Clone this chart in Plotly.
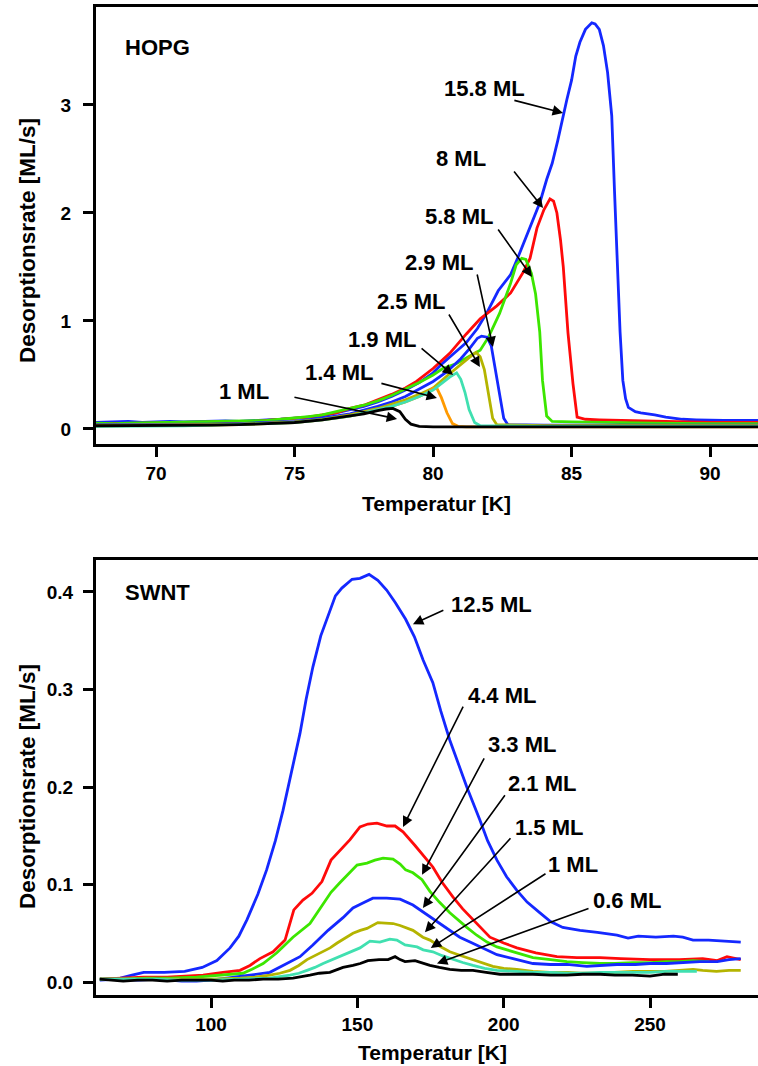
import plotly.graph_objects as go

# ---------------- HOPG: temperature [K], desorption rate [ML/s] ----------------
hopg_15_8 = [(67.8,0.06),(68.5,0.065),(69,0.07),(69.5,0.06),(70,0.065),(70.5,0.07),(71,0.065),(71.5,0.07),
             (72,0.07),(72.5,0.075),(73,0.07),(73.5,0.08),(74,0.085),(74.5,0.09),(75,0.10),(75.5,0.11),
             (76,0.12),(76.5,0.15),(77,0.18),(77.5,0.21),(78,0.25),(78.5,0.30),(79,0.36),(79.5,0.43),
             (80,0.52),(80.35,0.61),(80.8,0.71),(81.2,0.80),(81.6,0.93),(81.95,1.08),(82.35,1.28),
             (82.8,1.43),(83.05,1.58),(83.3,1.74),(83.6,1.93),(83.86,2.10),(84.1,2.31),(84.3,2.46),
             (84.5,2.67),(84.7,2.92),(84.83,3.05),(85.0,3.23),(85.15,3.45),(85.3,3.58),(85.5,3.70),
             (85.73,3.76),(85.85,3.75),(86.0,3.70),(86.15,3.55),(86.3,3.30),(86.45,2.90),(86.55,2.20),
             (86.65,1.50),(86.75,0.90),(86.85,0.45),(86.95,0.28),(87.05,0.20),(87.3,0.16),(87.5,0.15),
             (87.8,0.14),(88.0,0.13),(88.4,0.11),(88.7,0.10),(89.0,0.09),(89.5,0.085),(90.0,0.08),
             (90.5,0.08),(91.0,0.08),(91.75,0.08)]
hopg_8 = [(67.8,0.05),(68.5,0.05),(69,0.055),(70,0.055),(71,0.06),(72,0.06),(73,0.065),(73.5,0.07),
          (74,0.08),(74.5,0.085),(75,0.10),(75.5,0.11),(76,0.13),(76.5,0.15),(77,0.19),(77.5,0.22),
          (78,0.27),(78.5,0.32),(79,0.38),(79.4,0.44),(80,0.56),(80.6,0.70),(81.2,0.88),(81.7,1.02),
          (82.0,1.08),(82.3,1.14),(82.8,1.26),(83.25,1.45),(83.5,1.58),(83.75,1.86),(84.0,2.03),
          (84.22,2.13),(84.35,2.11),(84.47,2.00),(84.6,1.75),(84.7,1.50),(84.87,0.89),(85.05,0.42),
          (85.2,0.11),(85.5,0.09),(86,0.085),(87,0.08),(88,0.07),(89,0.065),(90,0.06),(91.75,0.06)]
hopg_5_8 = [(67.8,0.055),(68.5,0.05),(69,0.055),(70,0.06),(71,0.06),(72,0.065),(73,0.07),(73.5,0.075),
            (74,0.08),(74.5,0.09),(75,0.10),(75.5,0.115),(76,0.13),(76.5,0.16),(77,0.19),(77.5,0.22),
            (78,0.26),(78.5,0.31),(79,0.37),(79.5,0.43),(80,0.50),(80.35,0.56),(80.8,0.60),(81.2,0.66),
            (81.7,0.73),(82.0,0.85),(82.4,1.07),(82.8,1.35),(83.0,1.52),(83.2,1.58),(83.35,1.57),
            (83.55,1.44),(83.7,1.25),(83.85,0.90),(83.95,0.45),(84.1,0.12),(84.3,0.07),(85,0.065),
            (86,0.06),(88,0.055),(90,0.05),(91.75,0.05)]
hopg_2_9 = [(67.8,0.04),(69,0.04),(70,0.045),(71,0.04),(72,0.045),(73,0.05),(74,0.06),(75,0.07),
            (76,0.10),(77,0.14),(78,0.21),(78.5,0.25),(79,0.30),(79.5,0.37),(80,0.44),(80.5,0.53),
            (81,0.65),(81.3,0.74),(81.6,0.84),(81.75,0.86),(81.95,0.85),(82.1,0.77),(82.25,0.55),
            (82.4,0.30),(82.55,0.10),(82.7,0.04),(84,0.035),(86,0.035),(88,0.035),(91.75,0.035)]
hopg_2_5 = [(67.8,0.035),(69,0.035),(70,0.035),(71,0.04),(72,0.04),(73,0.045),(74,0.055),(75,0.065),
            (76,0.09),(77,0.13),(78,0.19),(78.5,0.23),(79,0.27),(79.5,0.32),(80,0.38),(80.5,0.49),
            (81,0.60),(81.3,0.66),(81.55,0.71),(81.7,0.67),(81.85,0.55),(82.0,0.32),(82.15,0.10),
            (82.3,0.04),(84,0.03),(87,0.03),(91.75,0.03)]
hopg_1_9 = [(67.8,0.025),(69,0.025),(70,0.03),(71,0.03),(72,0.035),(73,0.04),(74,0.05),(75,0.06),
            (76,0.085),(77,0.12),(78,0.18),(78.5,0.21),(79,0.25),(79.5,0.30),(80,0.36),(80.3,0.42),
            (80.6,0.48),(80.85,0.52),(81.0,0.46),(81.15,0.34),(81.3,0.18),(81.5,0.06),(81.7,0.03),
            (84,0.025),(88,0.025),(91.75,0.025)]
hopg_1_4 = [(67.8,0.03),(69,0.03),(70,0.03),(71,0.035),(72,0.035),(73,0.04),(74,0.05),(75,0.06),
            (76,0.085),(77,0.12),(78,0.18),(78.5,0.21),(79,0.25),(79.5,0.30),(79.8,0.34),(80.0,0.38),
            (80.15,0.37),(80.3,0.29),(80.5,0.15),(80.7,0.05),(80.9,0.025),(81.2,0.02),(84,0.02),
            (88,0.02),(91.75,0.02)]
hopg_1 = [(67.8,0.03),(69,0.03),(70,0.03),(71,0.035),(72,0.035),(73,0.04),(74,0.05),(75,0.06),
          (76,0.085),(77,0.12),(77.5,0.14),(78.0,0.17),(78.3,0.185),(78.55,0.19),(78.8,0.16),
          (79.0,0.09),(79.2,0.045),(79.5,0.025),(80,0.02),(82,0.02),(86,0.02),(91.75,0.02)]

# ---------------- SWNT ----------------
swnt_12_5 = [(62,0.003),(69,0.004),(73,0.007),(77,0.010),(84,0.010),(91,0.011),(97,0.015),(102,0.022),
             (106.5,0.035),(109.5,0.047),(112.3,0.064),(116,0.090),(119,0.115),(122,0.145),(124.6,0.176),
             (127.5,0.215),(130.4,0.255),(132.5,0.290),(134.8,0.323),(137.5,0.355),(140.6,0.381),
             (142.5,0.396),(144.7,0.404),(148.2,0.413),(150.9,0.414),(154,0.418),(157,0.412),(160,0.402),
             (163,0.389),(166.5,0.372),(169.5,0.354),(172.5,0.330),(175.8,0.307),(178.5,0.278),
             (181.6,0.248),(184.5,0.224),(187.4,0.200),(191.9,0.166),(194.5,0.145),(197.7,0.125),
             (201,0.108),(204.5,0.094),(208,0.082),(212.4,0.071),(216,0.062),(220.2,0.056),(226.1,0.053),
             (232,0.051),(238.7,0.048),(242.5,0.045),(246,0.047),(252,0.046),(258,0.047),(261.2,0.046),
             (264.7,0.043),(270,0.043),(275,0.042),(281,0.041)]
swnt_4_4 = [(62,0.003),(70,0.004),(77,0.005),(85,0.005),(92,0.006),(97.3,0.007),(104.1,0.010),(109.9,0.012),
            (113.3,0.017),(116.7,0.024),(121.2,0.031),(125.3,0.043),(128.3,0.074),(131.4,0.084),
            (134.5,0.091),(137.9,0.103),(141,0.125),(144.1,0.135),(147.5,0.146),(150.9,0.159),
            (153.6,0.162),(156.7,0.163),(160.1,0.160),(162.9,0.160),(165.6,0.154),(169.7,0.140),
            (173.8,0.125),(175.8,0.118),(179,0.102),(182.7,0.087),(186,0.075),(189.5,0.064),(192.5,0.054),
            (195.3,0.046),(200,0.040),(204.5,0.035),(211,0.030),(218.2,0.026),(225,0.025),(232.9,0.025),
            (240,0.024),(250,0.023),(260,0.023),(268,0.024),(273,0.022),(276.3,0.026),(281,0.023)]
swnt_3_3 = [(62,0.003),(70,0.003),(78,0.004),(86,0.004),(95,0.005),(104.1,0.007),(110.9,0.009),(114,0.013),
            (117.8,0.019),(122.5,0.030),(128,0.046),(133.8,0.060),(136,0.070),(138.3,0.081),(141,0.092),
            (144.1,0.102),(147,0.111),(149.9,0.120),(153.3,0.122),(156,0.125),(158.8,0.127),(162.2,0.126),
            (164.6,0.121),(166.5,0.115),(169,0.112),(172.1,0.105),(174.8,0.093),(178,0.082),(181.6,0.071),
            (184.5,0.063),(187.4,0.056),(190.8,0.048),(194.3,0.041),(197.7,0.036),(201.1,0.033),
            (205.5,0.029),(210,0.025),(216,0.023),(221.6,0.021),(227,0.020),(232.9,0.019),(238,0.019),
            (244.2,0.020),(250,0.020),(255.6,0.021),(260,0.021),(264.7,0.022),(270,0.021)]
swnt_2_1 = [(62,0.002),(68,0.003),(75,0.002),(82,0.003),(90,0.001),(95,0.001),(100,0.002),(106,0.004),
            (113.3,0.007),(120.1,0.010),(124.6,0.017),(130.4,0.026),(134.8,0.038),(140,0.053),(145.1,0.066),
            (148.5,0.076),(151.9,0.081),(155.3,0.086),(160,0.086),(164.6,0.085),(169,0.079),(172.4,0.072),
            (174.8,0.067),(178.2,0.060),(181.5,0.053),(185,0.046),(188.5,0.041),(191.9,0.036),(194.8,0.032),
            (197.7,0.028),(203.2,0.024),(210,0.019),(216,0.018),(221.6,0.018),(228.4,0.016),(233,0.017),
            (238.7,0.018),(245,0.018),(250,0.019),(255.6,0.019),(261,0.020),(267,0.021),(273,0.021),
            (277,0.023),(281,0.024)]
swnt_1_5 = [(62,0.003),(70,0.003),(80,0.003),(90,0.003),(100,0.003),(110,0.004),(115,0.005),(120.1,0.007),
            (123.5,0.009),(127,0.012),(130,0.017),(132.8,0.023),(135.5,0.027),(138.3,0.031),(140.7,0.035),
            (143.1,0.040),(145.8,0.045),(148.5,0.050),(151,0.053),(153.3,0.055),(157,0.061),(162.2,0.060),
            (164.6,0.058),(166.5,0.056),(169,0.053),(172.4,0.046),(174.8,0.043),(178,0.037),(181.6,0.031),
            (185.5,0.027),(189.5,0.023),(193,0.019),(196.3,0.016),(200,0.014),(204.5,0.013),(210,0.011),
            (215.8,0.010),(222,0.010),(226,0.009),(232.9,0.009),(238,0.010),(244.2,0.011),(250,0.011),
            (255,0.011),(260,0.012),(264.7,0.013),(268,0.012),(272.7,0.011),(277,0.012),(281,0.012)]
swnt_1 = [(62,0.003),(70,0.003),(80,0.003),(90,0.002),(100,0.002),(110,0.003),(120,0.004),(127,0.007),
          (130,0.009),(132.8,0.012),(135.5,0.015),(138.3,0.019),(141.5,0.023),(145.1,0.028),(148,0.031),
          (150.9,0.035),(154.3,0.042),(157.7,0.041),(161.1,0.044),(163.5,0.043),(166.3,0.038),(168.8,0.037),
          (170.4,0.036),(172.5,0.033),(175.8,0.031),(179,0.027),(182.7,0.023),(186,0.020),(189.5,0.017),
          (193.5,0.014),(197.7,0.012),(204,0.011),(210,0.010),(216,0.010),(221.6,0.009),(227,0.009),
          (232.9,0.010),(238,0.010),(244,0.010),(250,0.010),(255.6,0.011),(261,0.011),(266,0.011)]
swnt_0_6 = [(62,0.003),(65,0.002),(70,0.001),(75,0.002),(80,0.002),(85,0.001),(90,0.002),(95,0.002),
            (100,0.002),(104,0.001),(108,0.002),(113,0.002),(117.8,0.003),(123,0.003),(128,0.004),
            (133.8,0.007),(137,0.009),(140.6,0.010),(145.1,0.015),(148.5,0.017),(151,0.019),(153.6,0.022),
            (157.4,0.023),(160.5,0.023),(162.9,0.026),(164.6,0.023),(166.3,0.021),(169.7,0.022),
            (172.5,0.019),(174.8,0.017),(178,0.015),(181.6,0.013),(185.5,0.012),(189.5,0.012),(194,0.010),
            (198.7,0.008),(204,0.008),(210,0.008),(216,0.007),(221.6,0.007),(227,0.008),(233,0.008),
            (238,0.007),(244,0.007),(250,0.006),(255,0.008),(259.5,0.008)]

BLUE, RED, GREEN = "#1428FF", "#FF0A0A", "#3CE600"
OLIVE, TURQ, ORANGE, BLACK = "#B4B400", "#40E0B0", "#FF9A00", "#000000"

hopg_series = [
    ("15.8 ML", BLUE, hopg_15_8), ("8 ML", RED, hopg_8), ("5.8 ML", GREEN, hopg_5_8),
    ("2.9 ML", BLUE, hopg_2_9), ("2.5 ML", OLIVE, hopg_2_5), ("1.4 ML", ORANGE, hopg_1_4),
    ("1.9 ML", TURQ, hopg_1_9), ("1 ML", BLACK, hopg_1),
]
swnt_series = [
    ("12.5 ML", BLUE, swnt_12_5), ("4.4 ML", RED, swnt_4_4), ("3.3 ML", GREEN, swnt_3_3),
    ("2.1 ML", BLUE, swnt_2_1), ("1.5 ML", OLIVE, swnt_1_5), ("1 ML", TURQ, swnt_1),
    ("0.6 ML", BLACK, swnt_0_6),
]

# label text, label centre (x, y), arrow tail (x, y), arrow tip (x, y)
hopg_labels = [
    ("1 ML",    (73.17, 0.343), (74.94, 0.296), (78.70, 0.093)),
    ("1.4 ML",  (76.60, 0.519), (78.08, 0.426), (80.14, 0.287)),
    ("1.9 ML",  (78.15, 0.824), (79.53, 0.759), (80.72, 0.500)),
    ("2.5 ML",  (79.20, 1.176), (80.54, 1.074), (81.69, 0.574)),
    ("2.9 ML",  (80.21, 1.546), (81.58, 1.444), (82.16, 0.759)),
    ("5.8 ML",  (80.93, 1.963), (82.31, 1.861), (83.57, 1.407)),
    ("8 ML",    (81.01, 2.500), (82.88, 2.398), (83.97, 2.046)),
    ("15.8 ML", (81.87, 3.148), (82.88, 3.046), (84.69, 2.926)),
]
swnt_labels = [
    ("12.5 ML", (196.0, 0.387), (179.9, 0.382), (169.0, 0.367)),
    ("4.4 ML",  (199.4, 0.294), (186.4, 0.284), (165.6, 0.159)),
    ("3.3 ML",  (206.2, 0.244), (193.6, 0.231), (172.1, 0.110)),
    ("2.1 ML",  (213.1, 0.204), (200.8, 0.193), (172.4, 0.076)),
    ("1.5 ML",  (215.5, 0.158), (202.8, 0.149), (173.1, 0.051)),
    ("1 ML",    (223.7, 0.121), (214.8, 0.112), (175.1, 0.035)),
    ("0.6 ML",  (242.1, 0.084), (229.5, 0.076), (177.2, 0.019)),
]

FONT = "Liberation Sans, Arial, Helvetica, sans-serif"

fig = go.Figure()
for name, color, pts in hopg_series:
    t, r = zip(*pts)
    fig.add_trace(go.Scatter(x=t, y=r, mode="lines", name=name, xaxis="x", yaxis="y",
                             line=dict(color=color, width=2.8), hoverinfo="skip"))
for name, color, pts in swnt_series:
    t, r = zip(*pts)
    fig.add_trace(go.Scatter(x=t, y=r, mode="lines", name=name, xaxis="x2", yaxis="y2",
                             line=dict(color=color, width=2.8), hoverinfo="skip"))

annotations = []


def add_labels(labels, xr, yr):
    for text, (lx, ly), (tx, ty), (hx, hy) in labels:
        annotations.append(dict(x=lx, y=ly, xref=xr, yref=yr, text=text, showarrow=False,
                                font=dict(family=FONT, size=22, color="black", weight="bold"),
                                xanchor="center", yanchor="middle"))
        annotations.append(dict(x=hx, y=hy, ax=tx, ay=ty, xref=xr, yref=yr, axref=xr, ayref=yr,
                                text="", showarrow=True, arrowhead=2, arrowsize=1.3,
                                arrowwidth=1.6, arrowcolor="black", standoff=0, startstandoff=0))


add_labels(hopg_labels, "x", "y")
add_labels(swnt_labels, "x2", "y2")

title_font = dict(family=FONT, size=21, color="black", weight="bold")
ytitle_font = dict(family=FONT, size=22.5, color="black", weight="bold")
annotations += [
    dict(x=68.8, y=3.528, xref="x", yref="y", text="HOPG", showarrow=False, xanchor="left",
         font=dict(family=FONT, size=22, color="black", weight="bold")),
    dict(x=69.9, y=0.399, xref="x2", yref="y2", text="SWNT", showarrow=False, xanchor="left",
         font=dict(family=FONT, size=22, color="black", weight="bold")),
    dict(x=436 / 758, y=1 - 503 / 1066, xref="paper", yref="paper", text="Temperatur [K]",
         xanchor="center", yanchor="middle", showarrow=False, font=title_font),
    dict(x=432 / 758, y=1 - 1052 / 1066, xref="paper", yref="paper", text="Temperatur [K]",
         xanchor="center", yanchor="middle", showarrow=False, font=title_font),
    dict(x=27 / 758, y=1 - 241 / 1066, xref="paper", yref="paper", text="Desorptionsrate [ML/s]",
         xanchor="center", yanchor="middle", textangle=-90, showarrow=False, font=ytitle_font),
    dict(x=27 / 758, y=1 - 787 / 1066, xref="paper", yref="paper", text="Desorptionsrate [ML/s]",
         xanchor="center", yanchor="middle", textangle=-90, showarrow=False, font=ytitle_font),
]

tick_font = dict(family=FONT, size=19, color="black", weight="bold")
axis_common = dict(showline=True, linecolor="black", linewidth=3, ticks="outside", ticklen=10,
                   tickwidth=3, tickcolor="black", showgrid=False, zeroline=False, tickfont=tick_font)

x_dom = [96 / 758, 1.0]
fig.update_layout(
    width=758, height=1066, margin=dict(l=0, r=0, t=0, b=0),
    paper_bgcolor="white", plot_bgcolor="white", showlegend=False,
    font=dict(family=FONT, color="black"),
    xaxis=dict(domain=x_dom, anchor="y", range=[67.83, 91.73], tickvals=[70, 75, 80, 85, 90],
               mirror=True, **axis_common),
    yaxis=dict(domain=[1 - 444 / 1066, 1 - 7 / 1066], anchor="x", range=[-0.139, 3.907],
               tickvals=[0, 1, 2, 3], mirror=False, ticklabelstandoff=8, **axis_common),
    xaxis2=dict(domain=x_dom, anchor="y2", range=[60.7, 286.9], tickvals=[100, 150, 200, 250],
                mirror=True, **axis_common),
    yaxis2=dict(domain=[1 - 995 / 1066, 1 - 560 / 1066], anchor="x2", range=[-0.0133, 0.4328],
                tickvals=[0, 0.1, 0.2, 0.3, 0.4], tickformat=".1f", mirror=False,
                ticklabelstandoff=6, **axis_common),
    annotations=annotations,
)

fig.write_html("out.html")
